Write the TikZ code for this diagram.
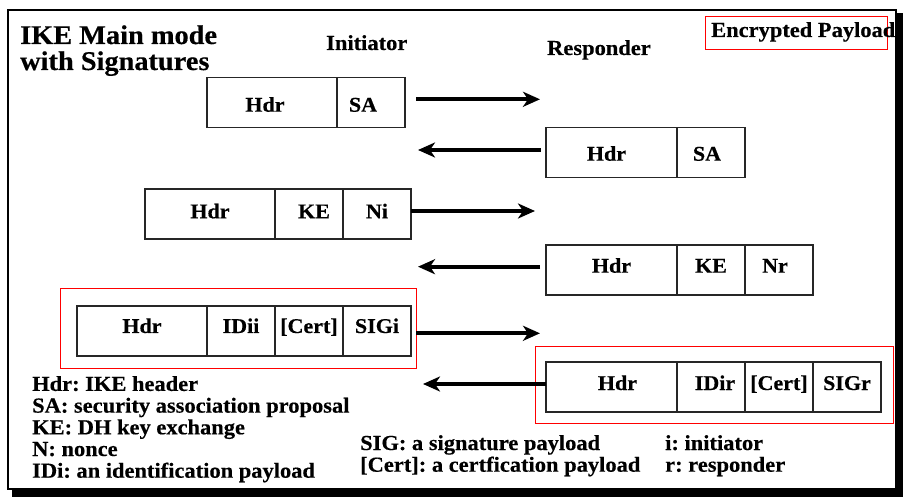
\documentclass[tikz,border=0pt]{standalone}
\usepackage{fontspec}
\setmainfont{Liberation Serif}[FakeStretch=1.05, BoldFeatures={FakeBold=0.4}]
\usetikzlibrary{arrows.meta}
\frenchspacing
\tikzset{
  cell/.style={draw=black!85, line width=1.3pt, inner sep=0pt, outer sep=0pt,
    minimum height=50pt, anchor=north west, text depth=0pt,
    font=\bfseries\fontsize{21}{22}\selectfont},
  encbox/.style={draw=red, line width=1pt},
  msg/.style={line width=4pt, -{Stealth[length=17pt,width=15pt,inset=5pt]}},
  lbl/.style={inner sep=0pt, anchor=base west, font=\bfseries\fontsize{21.4}{21.7}\selectfont, align=left},
  rA/.style={text height=18.8pt},
  rB/.style={text height=16.8pt},
  rC/.style={text height=8.6pt},
  rD/.style={text height=5.4pt},
  rE/.style={text height=4pt},
  rF/.style={text height=6pt}
}
\begin{document}
\begin{tikzpicture}[x=1pt,y=-1pt]
\useasboundingbox (0,0) rectangle (903,497);
% frame with shadow
\fill[black] (12,13) rectangle (903,497);
\draw[fill=white, line width=2pt] (8,10) rectangle (896,489);

% headings (base anchor = baseline of last line)
\node[lbl, font=\bfseries\fontsize{27}{26}\selectfont] (title) at (20,70) {IKE Main mode\\with Signatures};
\node[lbl] (init) at (326,50) {Initiator};
\node[lbl] (resp) at (547,55) {Responder};
\node[encbox, minimum width=182pt, minimum height=33pt, inner sep=0pt, anchor=north west] (encleg) at (705,16) {};
\node[lbl] (enctxt) at (711,37) {Encrypted Payload};

% row 1: initiator Hdr SA
\node[cell, rA, minimum width=130pt] (a1) at (207,77.3) {Hdr\hspace*{14pt}};
\node[cell, rA, minimum width=68pt] (a2) at (a1.north east) {SA\hspace*{16pt}};
% row 2: responder Hdr SA
\node[cell, rB, minimum width=131pt] (b1) at (546,127.3) {Hdr\hspace*{10pt}};
\node[cell, rB, minimum width=68pt] (b2) at (b1.north east) {SA\hspace*{8pt}};
% row 3: initiator Hdr KE Ni
\node[cell, rC, minimum width=130pt] (c1) at (145,189) {Hdr};
\node[cell, rC, minimum width=68pt] (c2) at (c1.north east) {\hspace*{10pt}KE};
\node[cell, rC, minimum width=68pt] (c3) at (c2.north east) {Ni};
% row 4: responder Hdr KE Nr
\node[cell, rD, minimum width=131pt] (d1) at (546,245) {Hdr};
\node[cell, rD, minimum width=68pt] (d2) at (d1.north east) {KE};
\node[cell, rD, minimum width=68pt] (d3) at (d2.north east) {Nr\hspace*{8pt}};
% row 5: initiator Hdr IDii [Cert] SIGi
\draw[encbox] (60,289) rectangle (416,368);
\node[cell, rE, minimum width=130pt] (e1) at (77,306) {Hdr};
\node[cell, rE, minimum width=68pt] (e2) at (e1.north east) {IDii};
\node[cell, rE, minimum width=68pt] (e3) at (e2.north east) {[Cert]};
\node[cell, rE, minimum width=68pt] (e4) at (e3.north east) {SIGi};
% row 6: responder Hdr IDir [Cert] SIGr
\draw[encbox] (535,346) rectangle (893,423);
\node[cell, rF, minimum width=131pt] (f1) at (546,362) {\hspace*{12pt}Hdr};
\node[cell, rF, minimum width=68pt] (f2) at (f1.north east) {\hspace*{8pt}IDir};
\node[cell, rF, minimum width=68pt] (f3) at (f2.north east) {[Cert]};
\node[cell, rF, minimum width=68pt] (f4) at (f3.north east) {SIGr};

% arrow end points
\coordinate (m1s) at (416,99.3);  \coordinate (m1e) at (540,99.3);
\coordinate (m2s) at (540.7,150); \coordinate (m2e) at (418,150);
\coordinate (m3s) at (411,211);   \coordinate (m3e) at (535,211);
\coordinate (m4s) at (540,266.7); \coordinate (m4e) at (418,266.7);
\coordinate (m5s) at (416,333.3); \coordinate (m5e) at (540,333.3);
\coordinate (m6s) at (546,384);   \coordinate (m6e) at (423,384);
\draw[msg] (m1s) -- (m1e);
\draw[msg] (m2s) -- (m2e);
\draw[msg] (m3s) -- (m3e);
\draw[msg] (m4s) -- (m4e);
\draw[msg] (m5s) -- (m5e);
\draw[msg] (m6s) -- (m6e);

% legends
\node[lbl] (leg1) at (32,477.7) {Hdr: IKE header\\SA: security association proposal\\KE: DH key exchange\\N: nonce\\IDi: an identification payload};
\node[lbl] (leg2) at (360,471.7) {SIG: a signature payload\\{[Cert]}: a certfication payload};
\node[lbl] (leg3) at (665,471.7) {i: initiator\\r: responder};
\end{tikzpicture}
\end{document}
